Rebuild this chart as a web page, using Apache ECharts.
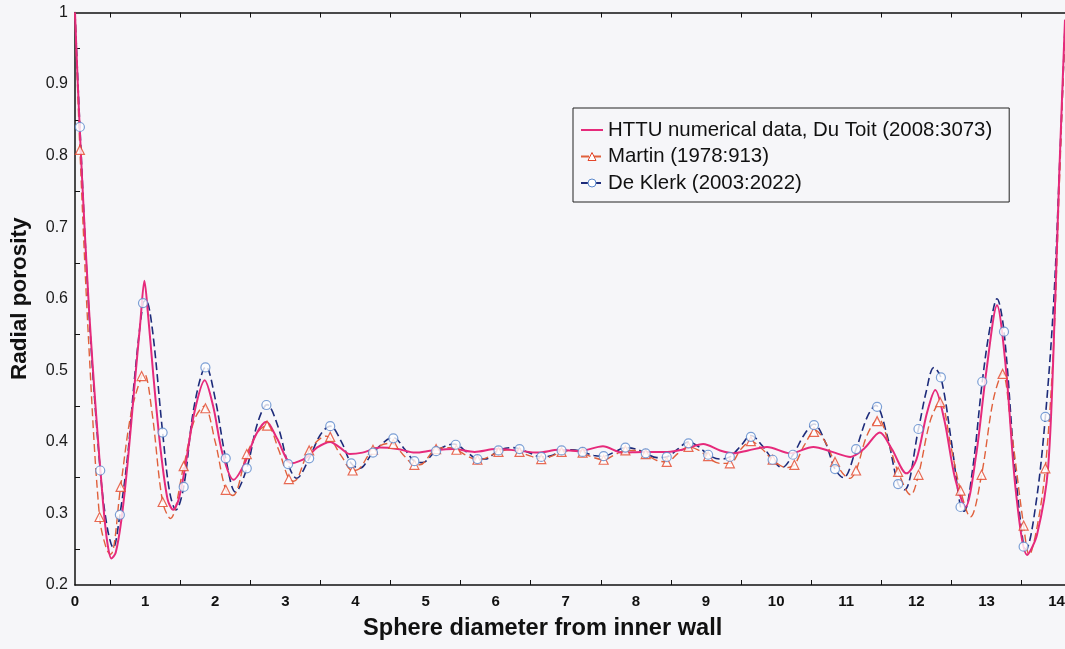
<!DOCTYPE html>
<html>
<head>
<meta charset="utf-8">
<title>Radial porosity</title>
<script src="https://cdn.jsdelivr.net/npm/echarts@6/dist/echarts.min.js"></script>
<style>
  html, body { margin: 0; padding: 0; background: #f6f6f9; }
  #chart { width: 1065px; height: 649px; }
</style>
</head>
<body>
<div id="chart"></div>
<script>
// Series names (legend order)
const seriesNames = [
  'HTTU numerical data, Du Toit (2008:3073)',
  'Martin (1978:913)',
  'De Klerk (2003:2022)'
];

// HTTU numerical data: [sphere diameters from wall, radial porosity]
const httu = [
  [0.00, 1.00], [0.04, 0.90], [0.10, 0.77], [0.20, 0.585], [0.30, 0.44],
  [0.40, 0.315], [0.46, 0.26], [0.52, 0.237], [0.58, 0.245], [0.66, 0.29],
  [0.75, 0.37], [0.85, 0.48], [0.93, 0.565], [0.99, 0.625], [1.04, 0.58],
  [1.12, 0.49], [1.22, 0.39], [1.32, 0.32], [1.40, 0.305], [1.48, 0.32],
  [1.58, 0.37], [1.70, 0.44], [1.85, 0.486], [1.97, 0.45], [2.10, 0.385],
  [2.26, 0.347], [2.42, 0.37], [2.58, 0.41], [2.73, 0.428], [2.88, 0.405],
  [3.09, 0.370], [3.30, 0.378], [3.45, 0.392], [3.64, 0.400], [3.78, 0.392],
  [3.92, 0.383], [4.10, 0.385], [4.35, 0.392], [4.60, 0.390], [4.85, 0.385],
  [5.10, 0.388], [5.40, 0.390], [5.70, 0.386], [6.00, 0.390], [6.30, 0.388],
  [6.60, 0.385], [6.90, 0.389], [7.20, 0.387], [7.53, 0.394], [7.80, 0.385],
  [8.10, 0.386], [8.45, 0.386], [8.70, 0.390], [8.96, 0.397], [9.20, 0.388],
  [9.39, 0.384], [9.60, 0.388], [9.87, 0.393], [10.20, 0.384], [10.53, 0.393],
  [10.80, 0.386], [11.06, 0.379], [11.25, 0.390], [11.48, 0.413], [11.65, 0.390],
  [11.86, 0.356], [12.00, 0.375], [12.15, 0.44], [12.27, 0.4725], [12.40, 0.43],
  [12.55, 0.35], [12.70, 0.309], [12.85, 0.38], [13.00, 0.50], [13.15, 0.591],
  [13.28, 0.50], [13.42, 0.33], [13.58, 0.242], [13.72, 0.27], [13.88, 0.365],
  [13.98, 0.598], [14.04, 0.78], [14.12, 0.99]
];

// Martin correlation: continuous curve
const martinCurve = [
  [0.00, 1.00], [0.07, 0.808], [0.20, 0.53], [0.35, 0.295], [0.45, 0.25],
  [0.51, 0.243], [0.65, 0.337], [0.80, 0.44], [0.95, 0.492], [0.99, 0.495],
  [1.10, 0.44], [1.25, 0.316], [1.36, 0.293], [1.55, 0.366], [1.70, 0.43],
  [1.84, 0.450], [2.00, 0.40], [2.15, 0.333], [2.25, 0.325], [2.45, 0.383],
  [2.62, 0.415], [2.74, 0.423], [2.90, 0.39], [3.05, 0.348], [3.12, 0.345],
  [3.34, 0.388], [3.58, 0.408], [3.80, 0.38], [3.96, 0.360], [4.05, 0.362],
  [4.25, 0.389], [4.50, 0.398], [4.70, 0.38], [4.84, 0.368], [4.92, 0.368],
  [5.15, 0.390], [5.35, 0.392], [5.60, 0.38], [5.74, 0.375], [5.85, 0.377],
  [6.04, 0.386], [6.20, 0.389], [6.50, 0.38], [6.65, 0.376], [6.80, 0.38],
  [6.94, 0.386], [7.10, 0.388], [7.40, 0.378], [7.54, 0.375], [7.70, 0.382],
  [7.85, 0.388], [8.00, 0.388], [8.30, 0.374], [8.44, 0.372], [8.60, 0.384],
  [8.75, 0.393], [8.90, 0.388], [9.20, 0.370], [9.34, 0.370], [9.50, 0.39],
  [9.64, 0.401], [9.80, 0.39], [9.95, 0.375], [10.15, 0.364], [10.26, 0.368],
  [10.40, 0.395], [10.56, 0.416], [10.70, 0.40], [10.84, 0.372], [11.05, 0.349],
  [11.14, 0.360], [11.30, 0.41], [11.46, 0.432], [11.60, 0.40], [11.74, 0.358],
  [11.92, 0.326], [12.03, 0.354], [12.20, 0.43], [12.34, 0.456], [12.50, 0.39],
  [12.63, 0.332], [12.77, 0.295], [12.93, 0.354], [13.10, 0.46], [13.23, 0.496],
  [13.35, 0.42], [13.53, 0.283], [13.61, 0.242], [13.72, 0.28], [13.84, 0.363],
  [13.96, 0.54], [14.04, 0.76], [14.12, 0.98]
];

// Martin correlation: evaluated points (triangles)
const martinPoints = [
  [0.07, 0.808], [0.35, 0.295], [0.65, 0.337], [0.95, 0.492], [1.25, 0.316],
  [1.55, 0.366], [1.86, 0.447], [2.15, 0.333], [2.45, 0.383], [2.74, 0.4226],
  [3.05, 0.348], [3.34, 0.388], [3.64, 0.407], [3.96, 0.360], [4.25, 0.389],
  [4.54, 0.397], [4.84, 0.368], [5.15, 0.390], [5.44, 0.389], [5.74, 0.375],
  [6.04, 0.386], [6.34, 0.386], [6.65, 0.376], [6.94, 0.386], [7.24, 0.385],
  [7.54, 0.375], [7.85, 0.388], [8.14, 0.383], [8.44, 0.372], [8.75, 0.393],
  [9.03, 0.380], [9.34, 0.370], [9.64, 0.401], [9.95, 0.375], [10.26, 0.368],
  [10.54, 0.414], [10.84, 0.372], [11.14, 0.360], [11.44, 0.429], [11.74, 0.358],
  [12.03, 0.354], [12.34, 0.4555], [12.63, 0.332], [12.93, 0.354], [13.23, 0.495],
  [13.53, 0.283], [13.84, 0.363]
];

// De Klerk correlation: continuous curve
const deKlerkCurve = [
  [0.00, 1.00], [0.07, 0.84], [0.20, 0.58], [0.36, 0.36], [0.46, 0.28],
  [0.545, 0.252], [0.64, 0.298], [0.75, 0.38], [0.85, 0.49], [0.97, 0.594],
  [1.01, 0.598], [1.10, 0.56], [1.25, 0.413], [1.35, 0.33], [1.44, 0.305],
  [1.55, 0.337], [1.70, 0.45], [1.87, 0.505], [2.00, 0.46], [2.15, 0.377],
  [2.29, 0.330], [2.45, 0.363], [2.60, 0.425], [2.74, 0.452], [2.90, 0.42],
  [3.04, 0.369], [3.16, 0.349], [3.34, 0.377], [3.50, 0.41], [3.64, 0.422],
  [3.80, 0.40], [3.94, 0.370], [4.06, 0.363], [4.25, 0.385], [4.54, 0.406],
  [4.70, 0.39], [4.84, 0.373], [4.95, 0.371], [5.15, 0.387], [5.40, 0.397],
  [5.60, 0.385], [5.74, 0.376], [5.85, 0.376], [6.04, 0.388], [6.25, 0.392],
  [6.45, 0.386], [6.65, 0.379], [6.80, 0.381], [6.94, 0.388], [7.10, 0.389],
  [7.24, 0.386], [7.40, 0.381], [7.54, 0.380], [7.70, 0.386], [7.85, 0.392],
  [8.00, 0.390], [8.14, 0.384], [8.30, 0.378], [8.44, 0.379], [8.60, 0.390],
  [8.75, 0.400], [8.90, 0.393], [9.03, 0.382], [9.20, 0.376], [9.34, 0.379],
  [9.50, 0.395], [9.64, 0.409], [9.80, 0.395], [9.95, 0.375], [10.08, 0.364],
  [10.24, 0.382], [10.40, 0.41], [10.54, 0.425], [10.70, 0.40], [10.84, 0.362],
  [10.96, 0.350], [11.14, 0.390], [11.30, 0.435], [11.42, 0.451], [11.58, 0.41],
  [11.74, 0.341], [11.83, 0.333], [12.03, 0.418], [12.14, 0.47], [12.25, 0.504],
  [12.35, 0.490], [12.50, 0.40], [12.63, 0.309], [12.68, 0.303], [12.80, 0.36],
  [12.94, 0.484], [13.05, 0.56], [13.15, 0.600], [13.25, 0.554], [13.40, 0.37],
  [13.53, 0.2535], [13.56, 0.250], [13.70, 0.31], [13.84, 0.435], [13.96, 0.598],
  [14.04, 0.78], [14.12, 0.98]
];

// De Klerk correlation: evaluated points (circles)
const deKlerkPoints = [
  [0.07, 0.84], [0.36, 0.36], [0.64, 0.298], [0.97, 0.594], [1.25, 0.413],
  [1.55, 0.337], [1.86, 0.504], [2.15, 0.377], [2.45, 0.363], [2.73, 0.4515],
  [3.04, 0.369], [3.34, 0.377], [3.64, 0.422], [3.94, 0.370], [4.25, 0.385],
  [4.54, 0.405], [4.84, 0.373], [5.15, 0.387], [5.43, 0.396], [5.74, 0.376],
  [6.04, 0.388], [6.34, 0.390], [6.65, 0.379], [6.94, 0.388], [7.24, 0.386],
  [7.54, 0.380], [7.85, 0.392], [8.14, 0.384], [8.44, 0.379], [8.75, 0.398],
  [9.03, 0.382], [9.34, 0.379], [9.64, 0.407], [9.95, 0.375], [10.24, 0.382],
  [10.54, 0.4235], [10.84, 0.362], [11.14, 0.390], [11.44, 0.449], [11.74, 0.341],
  [12.03, 0.418], [12.35, 0.490], [12.63, 0.309], [12.94, 0.484], [13.25, 0.554],
  [13.53, 0.2535], [13.84, 0.435]
];

const FONT = "'Liberation Sans', Arial, Helvetica, sans-serif";
const BG = '#f6f6f9';
const PINK = '#e62a7b';
const ORANGE = '#e0603c';
const ORANGE_MARK = '#e4462a';
const NAVY = '#1d2b7a';
const BLUE_MARK = '#5b88cc';

const chart = echarts.init(document.getElementById('chart'), null, { renderer: 'canvas' });

// Plot frame: labels on whole units, short inward ticks at the half units
const frameAxis = {
  type: 'value',
  min: 0,
  max: 14.12,
  interval: 1,
  axisLine: { show: true, onZero: false, lineStyle: { color: '#111', width: 1.5 } },
  axisTick: { show: false, inside: true },
  minorTick: { show: true, splitNumber: 2, length: 5, lineStyle: { color: '#111', width: 1 } },
  splitLine: { show: false },
  minorSplitLine: { show: false }
};

const option = {
  backgroundColor: BG,
  animation: false,
  grid: { left: 75, right: 0, top: 12.5, bottom: 64, containLabel: false, outerBoundsMode: 'none' },
  legend: {
    orient: 'vertical',
    left: 573,
    top: 108,
    padding: [12, 17, 9, 7],
    itemGap: 6.5,
    itemWidth: 22,
    itemHeight: 10,
    borderColor: '#222',
    borderWidth: 1,
    backgroundColor: BG,
    textStyle: { fontFamily: FONT, fontSize: 20.4, color: '#111', lineHeight: 20 },
    data: [
      { name: seriesNames[0], itemStyle: { opacity: 0 } },
      { name: seriesNames[1], itemStyle: { borderWidth: 1 } },
      { name: seriesNames[2], itemStyle: { borderWidth: 1 } }
    ]
  },
  xAxis: [
    Object.assign({}, frameAxis, {
      position: 'bottom',
      axisLabel: {
        show: true, margin: 9, fontFamily: FONT, fontSize: 15, fontWeight: 'bold', color: '#111'
      }
    }),
    Object.assign({}, frameAxis, {
      position: 'top',
      axisLabel: { show: false }
    })
  ],
  yAxis: [
    {
      type: 'value',
      min: 0.2,
      max: 1,
      interval: 0.1,
      position: 'left',
      name: 'Radial porosity',
      nameLocation: 'middle',
      nameGap: 44,
      nameRotate: 90,
      nameTextStyle: { fontFamily: FONT, fontSize: 22.5, fontWeight: 'bold', color: '#111' },
      axisLine: { show: true, onZero: false, lineStyle: { color: '#111', width: 1.5 } },
      axisTick: { show: false, inside: true },
      minorTick: { show: true, splitNumber: 2, length: 5, lineStyle: { color: '#111', width: 1 } },
      splitLine: { show: false },
      minorSplitLine: { show: false },
      axisLabel: {
        margin: 7, fontFamily: FONT, fontSize: 16, color: '#1a1a1a',
        formatter: v => (Math.abs(v - 1) < 1e-9 ? '1' : v.toFixed(1))
      }
    }
  ],
  graphic: [
    {
      type: 'text',
      left: 363,
      top: 616,
      style: {
        text: 'Sphere diameter from inner wall',
        font: 'bold 23.6px ' + FONT,
        fill: '#111'
      }
    }
  ],
  series: [
    {
      name: seriesNames[2],
      type: 'line',
      data: deKlerkCurve,
      smooth: 0.35,
      symbol: 'circle',
      symbolSize: 8,
      showSymbol: false,
      lineStyle: { color: NAVY, width: 1.6, type: [8, 4] },
      itemStyle: { color: '#ffffff', borderColor: BLUE_MARK, borderWidth: 1.2 },
      z: 2
    },
    {
      name: seriesNames[1],
      type: 'line',
      data: martinCurve,
      smooth: 0.35,
      symbol: 'triangle',
      symbolSize: 8,
      showSymbol: false,
      lineStyle: { color: ORANGE, width: 1.4, type: [8, 4] },
      itemStyle: { color: '#ffffff', borderColor: ORANGE_MARK, borderWidth: 1.2 },
      z: 2
    },
    {
      name: seriesNames[0],
      type: 'line',
      data: httu,
      smooth: 0.3,
      symbol: 'none',
      lineStyle: { color: PINK, width: 2 },
      itemStyle: { color: PINK },
      z: 3
    },
    {
      name: seriesNames[1],
      type: 'scatter',
      data: martinPoints,
      symbol: 'triangle',
      symbolSize: 9,
      itemStyle: { color: '#ffffff', borderColor: ORANGE_MARK, borderWidth: 1.2 },
      z: 4
    },
    {
      name: seriesNames[2],
      type: 'scatter',
      data: deKlerkPoints,
      symbol: 'circle',
      symbolSize: 9,
      itemStyle: { color: '#ffffff', borderColor: BLUE_MARK, borderWidth: 1.2 },
      z: 4
    }
  ]
};

chart.setOption(option);
</script>
</body>
</html>
